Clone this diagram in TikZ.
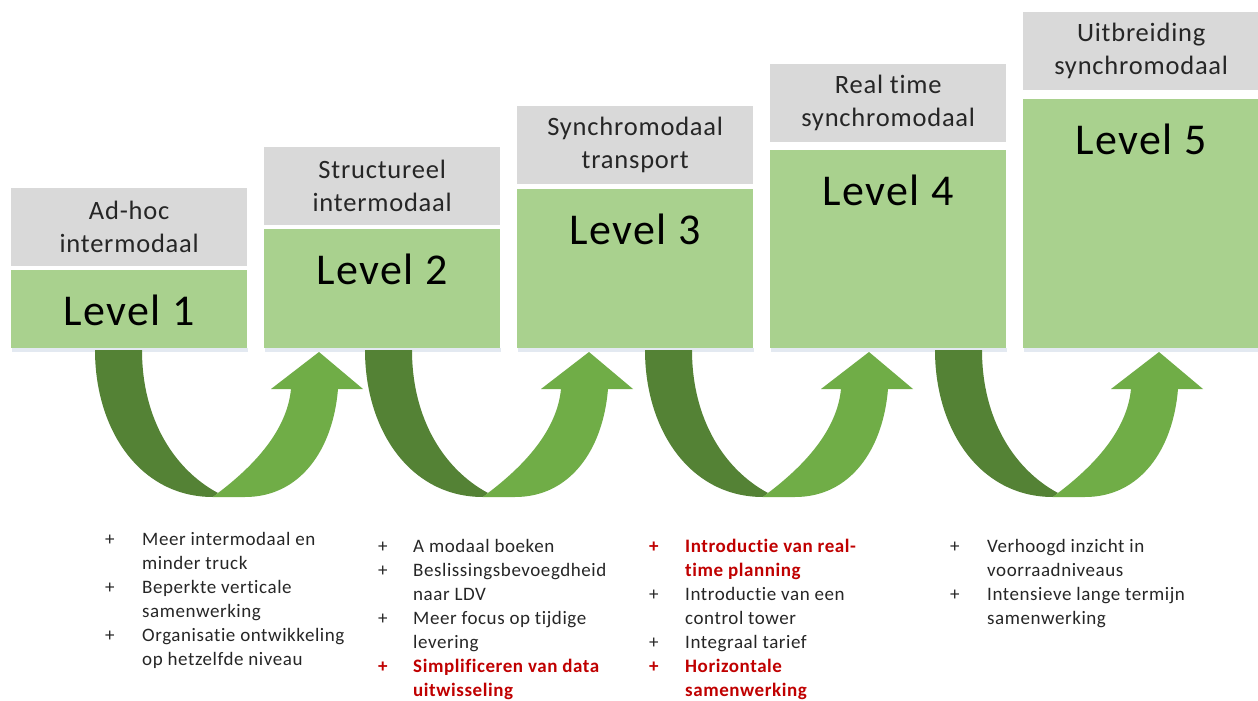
\documentclass[tikz,border=0pt]{standalone}
\usepackage{fontspec}
\setmainfont{Carlito}[Ligatures=NoCommon]
\newfontfamily\listfont{Carlito}[LetterSpace=3,Ligatures=NoCommon]
\newfontfamily\hdrfont{Carlito}[LetterSpace=3,Ligatures=NoCommon]
\newfontfamily\lvlfont{Carlito}[LetterSpace=3,Ligatures=NoCommon]
\usetikzlibrary{calc}
\definecolor{hdr}{HTML}{D9D9D9}
\definecolor{lvl}{HTML}{A9D18E}
\definecolor{dkg}{HTML}{548235}
\definecolor{ltg}{HTML}{70AD47}
\definecolor{txt}{HTML}{262626}
\definecolor{redone}{HTML}{C00000}
\definecolor{shd}{HTML}{E3E9F1}
\newcommand\rp{\textcolor{redone}{\textbf{+}}}
\newcommand\rt[1]{\textcolor{redone}{\textbf{#1}}}
\newcommand\drawUarrow[1]{%
\begin{scope}[shift={(#1,0)}]
\fill[dkg] (0,350) -- (47,350) .. controls (47,420) and (80,470) .. (123,493) -- (118,497) .. controls (45,497) and (0,430) .. (0,350) -- cycle;
\fill[ltg] (123,493) .. controls (160,465) and (192,430) .. (196,389) -- (176,389) -- (224,352) -- (268,389) -- (243,389) .. controls (238,450) and (205,497) .. (150,497) -- (118,497) -- cycle;
\end{scope}}
\tikzset{
  hdrbox/.style={fill=hdr, draw=none, minimum width=236pt, minimum height=78pt, inner sep=0pt, anchor=north west, align=center, text=txt, font=\hdrfont\fontsize{26.5}{33}\selectfont},
  lvlbox/.style={fill=lvl, draw=none, minimum width=236pt, inner sep=0pt, anchor=north west},
  lvltxt/.style={anchor=base, inner sep=0pt, text=black, font=\lvlfont\fontsize{44}{50}\selectfont},
  listtxt/.style={anchor=base west, inner sep=0pt, text=txt, font=\listfont\fontsize{19}{24}\selectfont}
}
\begin{document}
\begin{tikzpicture}[x=1pt,y=-1pt]
\useasboundingbox (0,0) rectangle (1258,701);
\fill[white] (0,0) rectangle (1258,701);
% shadows
\foreach \xx in {11,264,517,770,1023}{\fill[shd] (\xx+1,348) rectangle (\xx+237,352);}
% header boxes
\node[hdrbox] (h1) at (11,188) {Ad-hoc\\intermodaal};
\node[hdrbox] (h2) at (264,147) {Structureel\\intermodaal};
\node[hdrbox] (h3) at (517,106) {Synchromodaal\\transport};
\node[hdrbox] (h4) at (770,64) {Real time\\synchromodaal};
\node[hdrbox] (h5) at (1023,12) {Uitbreiding\\synchromodaal};
% level boxes
\node[lvlbox, minimum height=78pt] (g1) at (11,270) {};
\node[lvlbox, minimum height=119pt] (g2) at (264,229) {};
\node[lvlbox, minimum height=159pt] (g3) at (517,189) {};
\node[lvlbox, minimum height=198pt] (g4) at (770,150) {};
\node[lvlbox, minimum height=249pt] (g5) at (1023,99) {};
\node[lvltxt] (t1) at ($(g1.north)+(0,55)$) {Level 1};
\node[lvltxt] (t2) at ($(g2.north)+(0,55)$) {Level 2};
\node[lvltxt] (t3) at ($(g3.north)+(0,55)$) {Level 3};
\node[lvltxt] (t4) at ($(g4.north)+(0,55)$) {Level 4};
\node[lvltxt] (t5) at ($(g5.north)+(0,55)$) {Level 5};
% curved arrows
\drawUarrow{95}
\drawUarrow{365}
\drawUarrow{645}
\drawUarrow{935}
% lists
\node[listtxt] (l1) at (105,545) {\begin{tabular}[t]{@{}p{37pt}@{}l@{}}
+ & Meer intermodaal en\\
  & minder truck\\
+ & Beperkte verticale\\
  & samenwerking\\
+ & Organisatie ontwikkeling\\
  & op hetzelfde niveau
\end{tabular}};
\node[listtxt] (l2) at (378,552) {\begin{tabular}[t]{@{}p{35pt}@{}l@{}}
+ & A modaal boeken\\
+ & Beslissingsbevoegdheid\\
  & naar LDV\\
+ & Meer focus op tijdige\\
  & levering\\
\rp & \rt{Simplificeren van data}\\
  & \rt{uitwisseling}
\end{tabular}};
\node[listtxt] (l3) at (649,552) {\begin{tabular}[t]{@{}p{36pt}@{}l@{}}
\rp & \rt{Introductie van real-}\\
  & \rt{time planning}\\
+ & Introductie van een\\
  & control tower\\
+ & Integraal tarief\\
\rp & \rt{Horizontale}\\
  & \rt{samenwerking}
\end{tabular}};
\node[listtxt] (l4) at (950,552) {\begin{tabular}[t]{@{}p{37pt}@{}l@{}}
+ & Verhoogd inzicht in\\
  & voorraadniveaus\\
+ & Intensieve lange termijn\\
  & samenwerking
\end{tabular}};
\end{tikzpicture}
\end{document}
